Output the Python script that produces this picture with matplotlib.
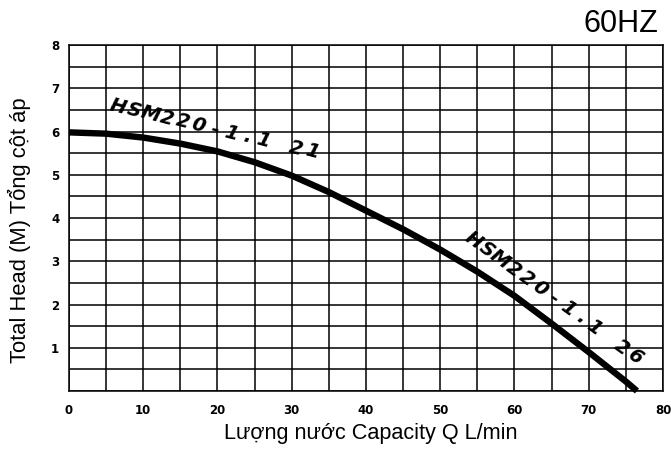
import numpy as np
import matplotlib.pyplot as plt

# pump curve (Q in L/min, head in m)
flow = [0, 5, 10, 15, 20, 25, 30, 35, 40, 45, 50, 55, 60, 65, 70, 75, 76.5]
head = [5.98, 5.95, 5.86, 5.72, 5.54, 5.29, 4.98, 4.60, 4.17, 3.74, 3.27, 2.76,
        2.20, 1.56, 0.90, 0.22, 0.0]

x_ticks = [0, 10, 20, 30, 40, 50, 60, 70, 80]
y_ticks = [1, 2, 3, 4, 5, 6, 7, 8]

model_label = "HSM220-1.1 21"
model_label_2 = "HSM220-1.1 26"

# -------------------------
# helpers
# -------------------------

def spaced_text(ax, s, start, end, rot, size=14):
    # lay the characters out evenly between two anchor points
    n = len(s)
    for i, ch in enumerate(s):
        t = i / (n - 1)
        x = start[0] + t * (end[0] - start[0])
        y = start[1] + t * (end[1] - start[1])
        ax.text(x, y, ch, rotation=rot, rotation_mode='anchor',
                ha='center', va='center', fontsize=size,
                fontweight='bold', fontstyle='italic',
                family='DejaVu Sans', color='black')

# -------------------------
# plot
# -------------------------

fig = plt.figure(figsize=(6.71, 4.5), dpi=100)
ax = fig.add_axes([0.1028, 0.1311, 0.8852, 0.7689])

ax.set_xlim(0, 80)
ax.set_ylim(0, 8)

ax.set_xticks(np.arange(0, 81, 5), minor=True)
ax.set_yticks(np.arange(0, 8.01, 0.5), minor=True)
ax.set_xticks(x_ticks)
ax.set_yticks(y_ticks)
ax.grid(which='both', color='black', linewidth=1.1)
ax.set_axisbelow(True)

ax.tick_params(which='both', length=0)
ax.tick_params(axis='x', pad=9)
ax.tick_params(axis='y', pad=7)
for lab in ax.get_xticklabels() + ax.get_yticklabels():
    lab.set_fontsize(8.5)
    lab.set_fontweight('bold')
    lab.set_family('DejaVu Sans')

for sp in ax.spines.values():
    sp.set_linewidth(1.1)

ax.plot(flow, head, color='black', linewidth=4.6,
        solid_capstyle='butt', solid_joinstyle='round', clip_on=False)

spaced_text(ax, model_label, (6.6, 6.57), (32.7, 5.53), -15)
spaced_text(ax, model_label_2, (54.45, 3.49), (76.2, 0.79), -36)

ax.set_xlabel('Lượng nước Capacity Q L/min', family='Liberation Sans',
              fontsize=15.6)
ax.xaxis.set_label_coords(0.508, -0.093)
ax.set_ylabel('Total Head (M) Tổng cột áp', family='Liberation Sans',
              fontsize=15.8)
ax.yaxis.set_label_coords(-0.064, 0.465)

fig.text(0.981, 0.947, '60HZ', ha='right', va='center',
         family='Liberation Sans', fontsize=22)

plt.savefig('out.png', dpi=100)
